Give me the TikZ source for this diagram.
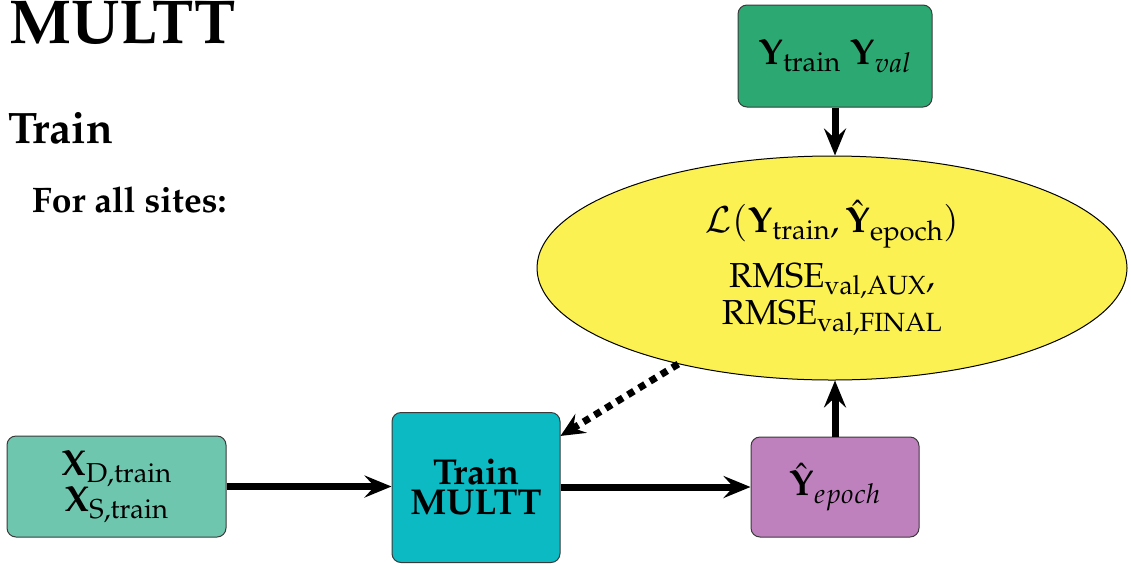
\documentclass[tikz,border=0pt]{standalone}
\usepackage[T1]{fontenc}
\usepackage{mathpazo}
\usetikzlibrary{arrows.meta,shapes.geometric}
\definecolor{cX}{HTML}{6DC6AD}
\definecolor{cTrain}{HTML}{0BBAC3}
\definecolor{cHat}{HTML}{BF80BE}
\definecolor{cY}{HTML}{2CA873}
\definecolor{cEll}{HTML}{FCF153}
\definecolor{cEdge}{HTML}{3A3A3A}
\tikzset{
  boxnode/.style={draw=cEdge, line width=1pt, rounded corners=9pt, align=center, inner sep=0pt,
    font=\fontsize{36}{36}\selectfont},
  conn/.style={line width=7pt, -{Stealth[length=27pt,width=22pt,inset=10pt]}},
  dotconn/.style={line width=7pt, dash pattern=on 7pt off 6pt, -{Stealth[length=24pt,width=22pt,inset=9pt]}},
  heading/.style={anchor=base west, inner sep=0pt}
}
\begin{document}
\begin{tikzpicture}[x=1pt,y=-1pt]
\useasboundingbox (0,0) rectangle (1131,563);
% headings
\node[heading, font=\fontsize{62}{62}\selectfont\bfseries] (title) at (9,43) {MULTT};
\node[heading, font=\fontsize{44}{44}\selectfont\bfseries] (train) at (8,143) {Train};
\node[heading, font=\fontsize{35.5}{35.5}\selectfont\bfseries] (sites) at (32,212) {For all sites:};
% boxes
\node[boxnode, fill=cX, minimum width=219pt, minimum height=101pt] (X) at (116.5,486.5)
  {$\mathbf{X}_{\mathrm{D,train}}$\\[-2pt]$\mathbf{X}_{\mathrm{S,train}}$};
\node[boxnode, fill=cTrain, minimum width=168pt, minimum height=150pt,
  font=\fontsize{36}{30}\selectfont\bfseries] (T) at (476,487.5) {Train\\MULTT};
\node[boxnode, fill=cHat, minimum width=168pt, minimum height=100pt] (H) at (835,487)
  {$\hat{\mathbf{Y}}_{epoch}$};
\node[boxnode, fill=cY, minimum width=194pt, minimum height=102pt] (Y) at (835,56)
  {$\mathbf{Y}_{\mathrm{train}}\ \mathbf{Y}_{val}$};
\node[ellipse, draw=black, line width=1pt, fill=cEll, minimum width=590pt, minimum height=224pt,
  inner sep=0pt, align=center, font=\fontsize{36}{37}\selectfont] (E) at (832,268)
  {$\mathcal{L}(\mathbf{Y}_{\mathrm{train}}, \hat{\mathbf{Y}}_{\mathrm{epoch}})$\\[14pt]
   \fontsize{34.7}{36}\selectfont RMSE$_{\mathrm{val,AUX}}$,\\
   \fontsize{34.7}{36}\selectfont RMSE$_{\mathrm{val,FINAL}}$};
% connectors
\draw[conn] (X.east) -- (T.west |- X.east);
\draw[conn] (T.east |- H.west) -- (H.west);
\draw[conn] (Y.south) -- (Y.south |- E.north);
\draw[conn] (H.north) -- (H.north |- E.south);
\draw[dotconn] (E.212.6) -- (T);
\end{tikzpicture}
\end{document}
